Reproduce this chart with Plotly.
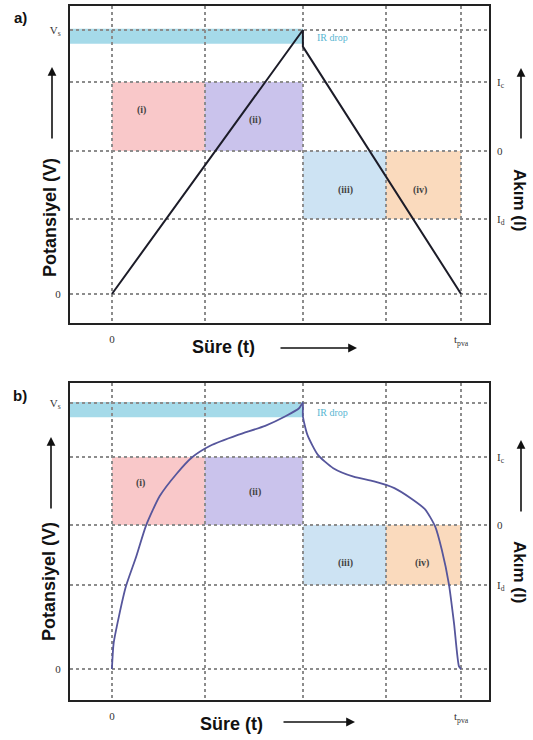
import plotly.graph_objects as go

W, H = 533, 740

# time axis: 0 at start of charge, 100 at end of discharge
t_grid = [0, 26.6, 54.7, 78.5, 100]
t_ticktext = ["0", "", "", "", "t<sub>pva</sub>"]
t_range = [-12.0, 108.0]

# potential axis (Vs normalised to 1)
v_ticks = [0, 1]
v_ticktext = ["0", "V<sub>s</sub>"]

# current levels on the potential scale, per panel
i_ticktext = ["I<sub>d</sub>", "0", "I<sub>c</sub>"]
i_levels_a = [0.284, 0.542, 0.803]
i_levels_b = [0.316, 0.541, 0.797]

# panel a: linear charge / discharge with IR drop
t_a = [0, 54.7, 54.7, 100]
v_a = [0, 1.0, 0.937, 0]

# panel b: non-linear charge / discharge curve
t_b = [0, 0.5, 2.0, 4.0, 6.9, 9.8, 13.7, 18.6, 22.9, 28.3, 36.1, 43.9, 49.7, 53.6, 54.6,
       54.7, 54.7, 56.0, 59.0, 63.4, 69.2, 75.1, 80.9, 85.8, 89.7, 92.6, 94.5, 96.5, 98.0, 99.4, 100]
v_b = [0, 0.097, 0.197, 0.31, 0.42, 0.54, 0.65, 0.735, 0.795, 0.84, 0.88, 0.914, 0.95, 0.98, 1.0,
       1.0, 0.95, 0.88, 0.805, 0.755, 0.723, 0.705, 0.68, 0.64, 0.60, 0.535, 0.447, 0.32, 0.17, 0.01, 0]

region_names = ["(i)", "(ii)", "(iii)", "(iv)"]
region_colors = ["rgba(248,190,192,0.85)", "rgba(196,188,234,0.9)",
                 "rgba(200,224,242,0.9)", "rgba(249,214,182,0.9)"]
label_pos_a = [(8.6, 0.697), (41.0, 0.659), (66.8, 0.394), (88.3, 0.394)]
label_pos_b = [(8.3, 0.699), (41.0, 0.665), (66.8, 0.398), (88.7, 0.398)]
ir_band = {"a": (0.948, 1.005), "b": (0.946, 1.004)}
ir_text_pos = {"a": (58.2, 0.97), "b": (58.2, 0.966)}

v_range_a = [-0.110, 1.091]
v_range_b = [-0.1165, 1.075]

x_dom = [70 / W, 489 / W]
y_dom_a = [1 - 323 / H, 1 - 6 / H]
y_dom_b = [1 - 700 / H, 1 - 383 / H]

serif = "Liberation Serif"
sans = "Liberation Sans"
grid_col = "#8c8c8c"

fig = go.Figure()
fig.add_trace(go.Scatter(x=t_a, y=v_a, mode="lines", xaxis="x", yaxis="y",
                         line=dict(color="#1c1c28", width=2), showlegend=False, hoverinfo="skip"))
fig.add_trace(go.Scatter(x=t_b, y=v_b, mode="lines", xaxis="x2", yaxis="y2",
                         line=dict(color="#56569c", width=1.8, shape="spline", smoothing=0.6),
                         showlegend=False, hoverinfo="skip"))
# empty traces so the right-hand current axes render
fig.add_trace(go.Scatter(x=[None], y=[None], xaxis="x", yaxis="y3", showlegend=False))
fig.add_trace(go.Scatter(x=[None], y=[None], xaxis="x2", yaxis="y4", showlegend=False))

tick_font = dict(family=serif, size=11, color="#333333")
axis_common = dict(showline=True, linecolor="#222", linewidth=2, mirror=True,
                   showgrid=True, gridcolor=grid_col, gridwidth=1.5, griddash="dot",
                   zeroline=False, ticks="", tickfont=tick_font)

xa = dict(axis_common, domain=x_dom, range=t_range, tickvals=t_grid, ticktext=t_ticktext,
          ticklabelstandoff=5)
fig.update_layout(
    xaxis=dict(xa, anchor="y"),
    xaxis2=dict(xa, anchor="y2"),
    yaxis=dict(axis_common, domain=y_dom_a, range=v_range_a, tickvals=v_ticks,
               ticktext=v_ticktext, anchor="x", ticklabelstandoff=5),
    yaxis2=dict(axis_common, domain=y_dom_b, range=v_range_b, tickvals=v_ticks,
                ticktext=v_ticktext, anchor="x2", ticklabelstandoff=5),
    yaxis3=dict(axis_common, overlaying="y", side="right", range=v_range_a,
                tickvals=i_levels_a, ticktext=i_ticktext, anchor="x", showline=False,
                ticklabelstandoff=7),
    yaxis4=dict(axis_common, overlaying="y2", side="right", range=v_range_b,
                tickvals=i_levels_b, ticktext=i_ticktext, anchor="x2", showline=False,
                ticklabelstandoff=7),
)

shapes = []
annotations = []
panels = [("a", "x", "y", i_levels_a, label_pos_a),
          ("b", "x2", "y2", i_levels_b, label_pos_b)]
for key, xr, yr, lev, lab in panels:
    id_, i0, ic = lev
    boxes = [(t_grid[0], t_grid[1], i0, ic), (t_grid[1], t_grid[2], i0, ic),
             (t_grid[2], t_grid[3], id_, i0), (t_grid[3], t_grid[4], id_, i0)]
    for (x0, x1, y0, y1), col in zip(boxes, region_colors):
        shapes.append(dict(type="rect", xref=xr, yref=yr, x0=x0, x1=x1, y0=y0, y1=y1,
                           fillcolor=col, line=dict(width=0), layer="below"))
    b0, b1 = ir_band[key]
    shapes.append(dict(type="rect", xref=xr, yref=yr, x0=t_range[0], x1=t_grid[2], y0=b0, y1=b1,
                       fillcolor="rgba(160,216,232,0.95)", line=dict(width=0), layer="below"))
    for name, (tx, ty) in zip(region_names, lab):
        annotations.append(dict(x=tx, y=ty, xref=xr, yref=yr, text=f"<b>{name}</b>",
                                xanchor="center", yanchor="middle", showarrow=False,
                                font=dict(family=serif, size=10, color="#444")))
    tx, ty = ir_text_pos[key]
    annotations.append(dict(x=tx, y=ty, xref=xr, yref=yr, text="IR drop", xanchor="left",
                            yanchor="middle", showarrow=False,
                            font=dict(family=serif, size=10, color="#5ab6d2")))


def px(x, y):
    return x / W, 1 - y / H


def text_at(x, y, s, size, angle=0):
    xx, yy = px(x, y)
    annotations.append(dict(x=xx, y=yy, xref="paper", yref="paper", text=s, showarrow=False,
                            xanchor="center", yanchor="middle", textangle=angle,
                            font=dict(family=sans, size=size, color="#111")))


def arrow(hx, hy, tx, ty):
    xx, yy = px(hx, hy)
    annotations.append(dict(x=xx, y=yy, xref="paper", yref="paper", text="", showarrow=True,
                            ax=tx - hx, ay=ty - hy, arrowhead=2, arrowsize=1.1,
                            arrowwidth=1.6, arrowcolor="#111"))


# panel titles and axis captions
text_at(20, 18, "<b>a)</b>", 15)
text_at(20, 395, "<b>b)</b>", 15)
text_at(50, 218, "<b>Potansiyel (V)</b>", 18, -90)
text_at(49, 582, "<b>Potansiyel (V)</b>", 18, -90)
text_at(520, 200, "<b>Akım (I)</b>", 17, 90)
text_at(520, 572, "<b>Akım (I)</b>", 17, 90)
text_at(223, 347, "<b>Süre (t)</b>", 18)
text_at(231, 724, "<b>Süre (t)</b>", 18)
arrow(52, 67, 52, 140)
arrow(51, 437, 51, 510)
arrow(521, 68, 521, 140)
arrow(521, 440, 521, 513)
arrow(357, 348, 279, 348)
arrow(355, 722, 282, 722)

fig.update_layout(width=W, height=H, margin=dict(l=0, r=0, t=0, b=0),
                  paper_bgcolor="white", plot_bgcolor="white",
                  shapes=shapes, annotations=annotations, showlegend=False)

fig.write_html("out.html")
